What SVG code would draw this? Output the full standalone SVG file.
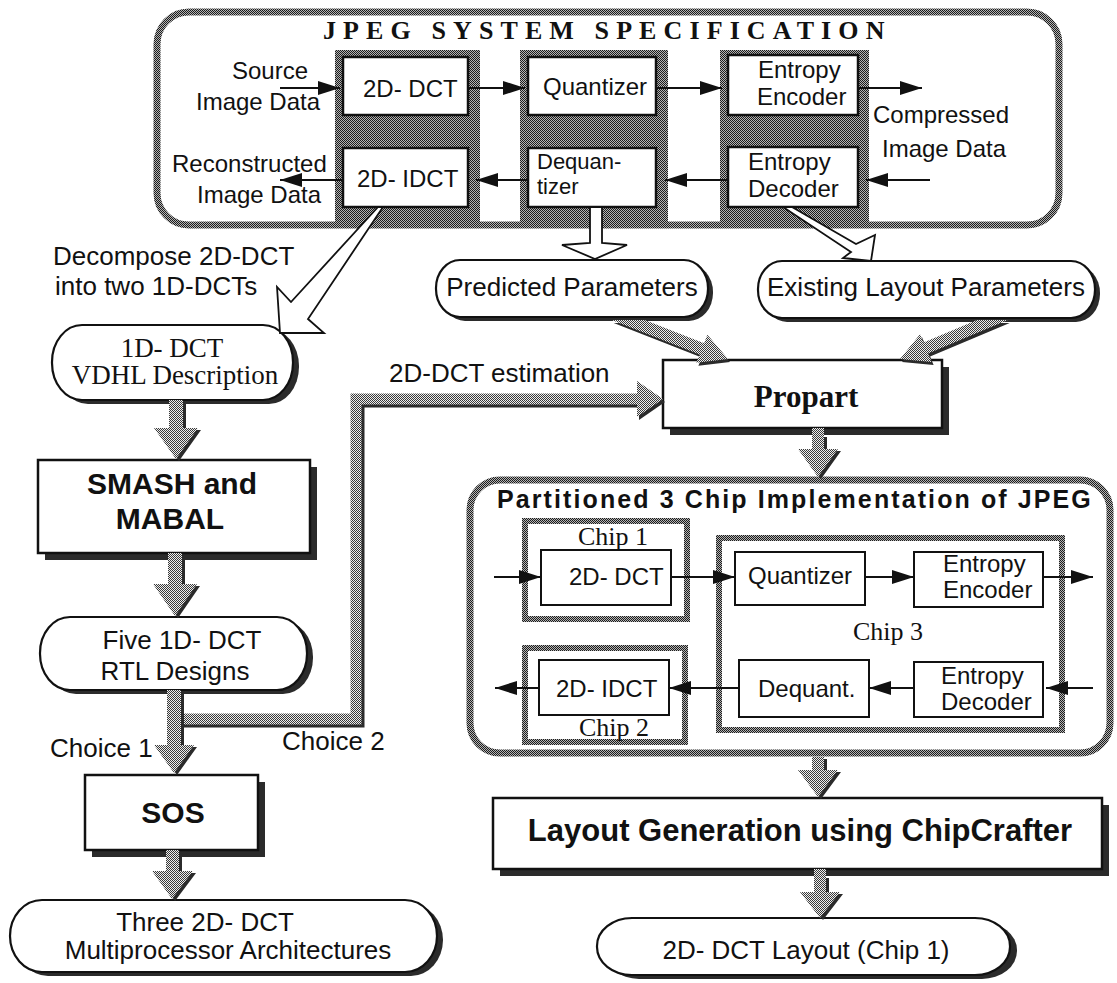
<svg xmlns="http://www.w3.org/2000/svg" width="1117" height="983" viewBox="0 0 1117 983">
  <defs>
    <!-- dark checker for shaded columns and box borders -->
    <pattern id="hatch" width="2" height="2" patternUnits="userSpaceOnUse">
      <rect width="2" height="2" fill="#b4b4b4"/>
      <rect width="1" height="1" fill="#1c1c1c"/>
      <rect x="1" y="1" width="1" height="1" fill="#1c1c1c"/>
    </pattern>
    <!-- lighter checker for block arrows -->
    <pattern id="hatchLight" width="2" height="2" patternUnits="userSpaceOnUse">
      <rect width="2" height="2" fill="#eeeeee"/>
      <rect width="1" height="1" fill="#3a3a3a"/>
      <rect x="1" y="1" width="1" height="1" fill="#3a3a3a"/>
    </pattern>
    <marker id="ah" viewBox="0 0 22 14" refX="22" refY="7" markerWidth="22" markerHeight="14" orient="auto" markerUnits="userSpaceOnUse">
      <path d="M0,0 L22,7 L0,14 z" fill="#111"/>
    </marker>
    <style>
      text { fill: #111; }
      .sans { font-family: "Liberation Sans", Arial, Helvetica, sans-serif; }
      .serif { font-family: "Liberation Serif", "Times New Roman", serif; }
      .s24 { font-size: 24px; }
      .s26 { font-size: 26px; }
      .b30 { font-size: 30px; font-weight: bold; }
      .mid { text-anchor: middle; }
      .box { fill: #fff; stroke: #111; stroke-width: 2.5; }
      .cbox { fill: #fff; stroke: #111; stroke-width: 2; }
      .pill { fill: #fff; stroke: #111; stroke-width: 2.2; }
      .shadow { fill: #2b2b2b; }
      .band { fill: none; stroke: url(#hatch); }
      .col { fill: url(#hatch); }
      .wire { fill: none; stroke: #111; stroke-width: 2; marker-end: url(#ah); }
      .hollow { fill: #fff; stroke: #111; stroke-width: 1.8; stroke-linejoin: miter; }
      .block { fill: url(#hatchLight); }
      .lband { fill: none; stroke: url(#hatchLight); }
    </style>
  </defs>

  <rect width="1117" height="983" fill="#fff"/>

  <!-- ===== JPEG system specification ===== -->
  <g id="jpeg-spec">
    <rect x="157" y="12" width="902" height="213" rx="32" fill="#fff" class="band" stroke-width="7"/>
    <text class="serif" x="323" y="39" font-size="26" font-weight="bold" letter-spacing="7.1">JPEG SYSTEM SPECIFICATION</text>
    <rect class="col" x="335" y="50" width="145" height="172"/>
    <rect class="col" x="520" y="50" width="148" height="172"/>
    <rect class="col" x="720" y="50" width="149" height="172"/>
    <g id="dct-2d">
      <rect class="box" x="343" y="57" width="125" height="58"/>
      <text class="sans s24" x="363" y="97">2D- DCT</text>
    </g>
    <g id="idct-2d">
      <rect class="box" x="343" y="148" width="125" height="59"/>
      <text class="sans s24" x="357" y="187">2D- IDCT</text>
    </g>
    <g id="quantizer">
      <rect class="box" x="528" y="57" width="128" height="58"/>
      <text class="sans s24" x="543" y="95">Quantizer</text>
    </g>
    <g id="dequantizer">
      <rect class="box" x="528" y="148" width="128" height="59"/>
      <text class="sans" font-size="22" x="537" y="169">Dequan-</text>
      <text class="sans" font-size="22" x="537" y="194">tizer</text>
    </g>
    <g id="entropy-encoder">
      <rect class="box" x="728" y="55" width="130" height="60"/>
      <text class="sans s24" x="758" y="78">Entropy</text>
      <text class="sans s24" x="757" y="105">Encoder</text>
    </g>
    <g id="entropy-decoder">
      <rect class="box" x="728" y="147" width="130" height="60"/>
      <text class="sans s24" x="748" y="170">Entropy</text>
      <text class="sans s24" x="748" y="197">Decoder</text>
    </g>
  </g>

  <!-- ===== parameter sources ===== -->
  <g id="predicted-parameters">
    <rect class="shadow" x="441" y="264" width="272" height="57" rx="24" ry="28"/>
    <rect class="pill" x="436" y="260" width="272" height="57" rx="24" ry="28"/>
    <text class="sans s26 mid" x="572" y="296">Predicted Parameters</text>
  </g>
  <g id="existing-layout-parameters">
    <rect class="shadow" x="763" y="265" width="337" height="57" rx="24" ry="28"/>
    <rect class="pill" x="758" y="261" width="337" height="57" rx="24" ry="28"/>
    <text class="sans s26 mid" x="926" y="296">Existing Layout Parameters</text>
  </g>

  <!-- ===== left flow ===== -->
  <g id="dct-1d-vhdl">
    <rect class="shadow" x="58" y="329" width="241" height="75" rx="30" ry="37"/>
    <rect class="pill" x="52" y="325" width="241" height="75" rx="30" ry="37"/>
    <text class="serif mid" font-size="27" x="172" y="357">1D- DCT</text>
    <text class="serif mid" font-size="27" x="175" y="384">VDHL Description</text>
  </g>
  <g id="smash-mabal">
    <rect class="shadow" x="45" y="467" width="272" height="93"/>
    <rect class="box" x="38" y="460" width="272" height="93"/>
    <text class="sans b30 mid" x="172" y="494">SMASH and</text>
    <text class="sans b30 mid" x="170" y="529">MABAL</text>
  </g>
  <g id="rtl-designs">
    <rect class="shadow" x="46" y="621" width="267" height="73" rx="30" ry="36"/>
    <rect class="pill" x="40" y="617" width="267" height="73" rx="30" ry="36"/>
    <text class="sans s26 mid" x="182" y="649">Five 1D- DCT</text>
    <text class="sans s26 mid" x="175" y="680">RTL Designs</text>
  </g>
  <g id="sos">
    <rect class="shadow" x="92" y="782" width="173" height="75"/>
    <rect class="box" x="85" y="775" width="173" height="75"/>
    <text class="sans b30 mid" x="173" y="823">SOS</text>
  </g>
  <g id="multiprocessor-architectures">
    <rect class="shadow" x="16" y="904" width="427" height="72" rx="32" ry="36"/>
    <rect class="pill" x="10" y="900" width="427" height="72" rx="32" ry="36"/>
    <text class="sans s26 mid" x="205" y="931">Three 2D- DCT</text>
    <text class="sans s26 mid" x="228" y="959">Multiprocessor Architectures</text>
  </g>

  <!-- ===== partitioning and layout ===== -->
  <g id="propart">
    <rect class="shadow" x="670" y="367" width="279" height="68"/>
    <rect class="box" x="663" y="360" width="279" height="68"/>
    <text class="serif mid" x="806" y="407" font-size="31" font-weight="bold">Propart</text>
  </g>

  <g id="three-chip-implementation">
    <rect x="470" y="480" width="640" height="273" rx="30" fill="#fff" class="band" stroke-width="7"/>
    <text class="sans" x="497" y="508" font-size="25" font-weight="bold" letter-spacing="2.1">Partitioned 3 Chip Implementation of JPEG</text>
    <g id="chip1">
      <rect x="525" y="521" width="162" height="98" fill="#fff" class="band" stroke-width="6"/>
      <text class="serif s26 mid" x="613" y="545">Chip 1</text>
      <rect class="cbox" x="541" y="550" width="130" height="55"/>
      <text class="sans s24" x="569" y="585">2D- DCT</text>
    </g>
    <g id="chip2">
      <rect x="525" y="648" width="160" height="94" fill="#fff" class="band" stroke-width="6"/>
      <rect class="cbox" x="539" y="660" width="130" height="55"/>
      <text class="sans s24" x="556" y="697">2D- IDCT</text>
      <text class="serif s26 mid" x="614" y="736">Chip 2</text>
    </g>
    <g id="chip3">
      <rect x="719" y="538" width="343" height="192" fill="#fff" class="band" stroke-width="6"/>
      <rect class="cbox" x="735" y="552" width="130" height="53"/>
      <text class="sans s24" x="748" y="584">Quantizer</text>
      <rect class="cbox" x="914" y="552" width="129" height="55"/>
      <text class="sans s24" x="943" y="572">Entropy</text>
      <text class="sans s24" x="943" y="598">Encoder</text>
      <text class="serif s26 mid" x="888" y="640">Chip 3</text>
      <rect class="cbox" x="739" y="660" width="130" height="57"/>
      <text class="sans s24" x="758" y="697">Dequant.</text>
      <rect class="cbox" x="914" y="662" width="129" height="55"/>
      <text class="sans s24" x="941" y="684">Entropy</text>
      <text class="sans s24" x="941" y="710">Decoder</text>
    </g>
  </g>

  <g id="layout-generation">
    <rect class="shadow" x="500" y="805" width="609" height="71"/>
    <rect class="box" x="493" y="798" width="609" height="71"/>
    <text class="sans mid" x="800" y="841" font-size="31" font-weight="bold">Layout Generation using ChipCrafter</text>
  </g>
  <g id="dct-layout-chip1">
    <rect class="shadow" x="604" y="922" width="413" height="57" rx="35" ry="28"/>
    <rect class="pill" x="597" y="918" width="413" height="57" rx="35" ry="28"/>
    <text class="sans s26 mid" x="806" y="959">2D- DCT Layout (Chip 1)</text>
  </g>

  <!-- ===== connectors ===== -->
  <g id="connectors">
    <!-- data flow inside the specification -->
    <path class="wire" d="M280,88 H340"/>
    <path class="wire" d="M468,88 H525"/>
    <path class="wire" d="M656,88 H722"/>
    <path class="wire" d="M858,88 H922"/>
    <path class="wire" d="M930,180 H866"/>
    <path class="wire" d="M728,180 H665"/>
    <path class="wire" d="M528,180 H476"/>
    <path class="wire" d="M343,180 H280"/>

    <!-- outline arrows leaving the specification -->
    <polygon class="hollow" points="378,207 291,302 277,287 280,333 324,333 308,319 383,207"/>
    <polygon class="hollow" points="590,207 590,243 562,245 595,259 627,245 602,243 602,207"/>
    <polygon class="hollow" points="792,207 856,244 875,235 871,261 843,258 851,252 783,207"/>

    <!-- parameters into Propart -->
    <polygon class="shadow" transform="translate(2,3)" points="644.8,320 704.1,343.2 707.4,334.8 728,359 696.4,362.8 699.7,354.4 611.7,320"/>
    <polygon class="block" points="644.8,320 704.1,343.2 707.4,334.8 728,359 696.4,362.8 699.7,354.4 611.7,320"/>
    <polygon class="shadow" transform="translate(2,3)" points="977,320 923.5,342.6 920,334.3 900,359 931.6,361.9 928.1,353.6 1007.7,320"/>
    <polygon class="block" points="977,320 923.5,342.6 920,334.3 900,359 931.6,361.9 928.1,353.6 1007.7,320"/>

    <!-- choice 2: 2D-DCT estimation path -->
    <path d="M175,719 H356 V399 H640" fill="none" stroke="#2b2b2b" stroke-width="11" transform="translate(3,3)"/>
    <path d="M175,719 H356 V399 H640" class="lband" stroke-width="11"/>
    <polygon class="shadow" transform="translate(2,3)" points="637,381 663,399 637,417"/>
    <polygon class="block" points="637,381 663,399 637,417"/>

    <!-- vertical flow arrows -->
    <g id="down-arrows">
      <polygon class="shadow" transform="translate(3,2)" points="169,400 183,400 183,428 198,428 176,459 154,428 169,428"/>
      <polygon class="block" points="169,400 183,400 183,428 198,428 176,459 154,428 169,428"/>
      <polygon class="shadow" transform="translate(3,2)" points="168,553 182,553 182,584 197,584 175,616 153,584 168,584"/>
      <polygon class="block" points="168,553 182,553 182,584 197,584 175,616 153,584 168,584"/>
      <polygon class="shadow" transform="translate(3,2)" points="167,690 181,690 181,745 194,745 174,773 154,745 167,745"/>
      <polygon class="block" points="167,690 181,690 181,745 194,745 174,773 154,745 167,745"/>
      <polygon class="shadow" transform="translate(3,2)" points="166,850 179,850 179,871 193,871 172,899 152,871 166,871"/>
      <polygon class="block" points="166,850 179,850 179,871 193,871 172,899 152,871 166,871"/>
      <polygon class="shadow" transform="translate(3,2)" points="812,435 824,435 824,449 838,449 818,477 798,449 812,449"/>
      <polygon class="block" points="812,428 824,428 824,449 838,449 818,477 798,449 812,449"/>
      <polygon class="shadow" transform="translate(3,2)" points="812,757 824,757 824,770 838,770 818,797 798,770 812,770"/>
      <polygon class="block" points="812,757 824,757 824,770 838,770 818,797 798,770 812,770"/>
      <polygon class="shadow" transform="translate(3,2)" points="814,876 826,876 826,892 840,892 820,918 800,892 814,892"/>
      <polygon class="block" points="814,869 826,869 826,892 840,892 820,918 800,892 814,892"/>
    </g>

    <!-- data flow across the three chips -->
    <path class="wire" d="M494,577 H541"/>
    <path class="wire" d="M671,577 H735"/>
    <path class="wire" d="M865,577 H914"/>
    <path class="wire" d="M1043,577 H1093"/>
    <path class="wire" d="M1093,688 H1046"/>
    <path class="wire" d="M914,688 H869"/>
    <path class="wire" d="M739,688 H669"/>
    <path class="wire" d="M539,688 H495"/>
  </g>

  <!-- ===== free labels ===== -->
  <g id="labels" class="sans">
    <text class="s24" x="232" y="79">Source</text>
    <text class="s24" x="196" y="110">Image Data</text>
    <text class="s24" x="172" y="172">Reconstructed</text>
    <text class="s24" x="197" y="203">Image Data</text>
    <text class="s24" x="873" y="123">Compressed</text>
    <text class="s24" x="882" y="157">Image Data</text>
    <text class="s26" x="53" y="265">Decompose 2D-DCT</text>
    <text class="s26" x="55" y="295">into two 1D-DCTs</text>
    <text class="s26" x="389" y="382">2D-DCT estimation</text>
    <text class="s26" x="50" y="757">Choice 1</text>
    <text class="s26" x="282" y="750">Choice 2</text>
  </g>
</svg>
